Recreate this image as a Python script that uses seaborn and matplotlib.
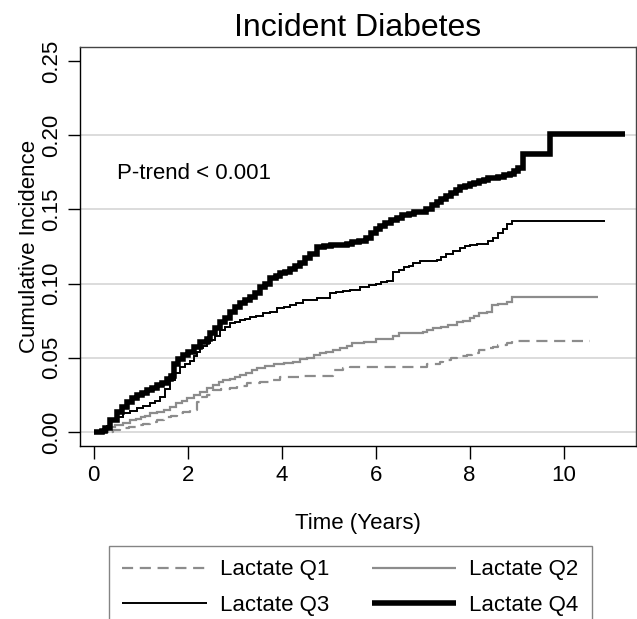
import matplotlib
matplotlib.use("Agg")
import matplotlib.pyplot as plt
import seaborn as sns
import pandas as pd

sns.set_theme(style="white")
plt.rcParams["font.family"] = ["Liberation Sans", "DejaVu Sans"]

title = "Incident Diabetes"
xlabel = "Time (Years)"
ylabel = "Cumulative Incidence"
annot = "P-trend < 0.001"
series_names = ["Lactate Q1", "Lactate Q2", "Lactate Q3", "Lactate Q4"]
x_ticks = [0, 2, 4, 6, 8, 10]
y_ticks = [0.00, 0.05, 0.10, 0.15, 0.20, 0.25]
grid_vals = [0.00, 0.05, 0.10, 0.15, 0.20]

q1_t = [0, 0.42, 0.56, 0.75, 0.92, 1.05, 1.2, 1.35, 1.49, 1.64, 1.77, 1.9, 2.05, 2.2, 2.27, 2.41,
        2.55, 2.7, 2.9, 3.05, 3.26, 3.54, 3.75, 3.97, 4.39, 5.1, 5.3, 5.46, 7.09, 7.37, 7.44, 7.6,
        7.73, 7.94, 8.05, 8.2, 8.37, 8.5, 8.6, 8.8, 8.9, 10.56]
q1_v = [0, 0.0013, 0.0025, 0.0035, 0.0047, 0.0057, 0.0067, 0.008, 0.010, 0.011, 0.0128, 0.0135, 0.0148, 0.020, 0.0236, 0.025,
        0.028, 0.029, 0.030, 0.031, 0.033, 0.034, 0.035, 0.037, 0.038, 0.0417, 0.043, 0.044, 0.0458, 0.047, 0.0485, 0.050,
        0.051, 0.052, 0.053, 0.055, 0.0565, 0.057, 0.0585, 0.060, 0.0612, 0.0612]

q2_t = [0, 0.31, 0.45, 0.63, 0.78, 0.9, 1.0, 1.1, 1.2, 1.35, 1.5, 1.63, 1.75, 1.87, 1.99, 2.13,
        2.27, 2.41, 2.55, 2.66, 2.76, 2.9, 3.0, 3.12, 3.25, 3.37, 3.48, 3.65, 3.83, 4.05, 4.25, 4.4,
        4.55, 4.68, 4.82, 4.95, 5.1, 5.25, 5.4, 5.5, 5.75, 6.0, 6.24, 6.38, 6.5, 6.75, 7.0, 7.1,
        7.22, 7.4, 7.55, 7.73, 7.85, 8.0, 8.1, 8.2, 8.37, 8.47, 8.6, 8.8, 8.9, 10.74]
q2_v = [0, 0.0034, 0.005, 0.006, 0.008, 0.009, 0.0101, 0.011, 0.0128, 0.0135, 0.015, 0.017, 0.0195, 0.021, 0.023, 0.025,
        0.027, 0.030, 0.032, 0.034, 0.035, 0.036, 0.037, 0.0384, 0.040, 0.042, 0.043, 0.0445, 0.046, 0.0465, 0.047, 0.049,
        0.050, 0.052, 0.053, 0.054, 0.055, 0.0565, 0.058, 0.060, 0.061, 0.0626, 0.063, 0.065, 0.0666, 0.067, 0.0673, 0.069,
        0.070, 0.071, 0.072, 0.074, 0.075, 0.077, 0.078, 0.080, 0.081, 0.0855, 0.086, 0.0875, 0.091, 0.091]

q3_t = [0, 0.28, 0.35, 0.5, 0.63, 0.78, 0.92, 1.05, 1.2, 1.3, 1.41, 1.52, 1.63, 1.74, 1.84, 1.95,
        2.05, 2.13, 2.2, 2.27, 2.33, 2.41, 2.48, 2.58, 2.69, 2.8, 2.9, 3.0, 3.12, 3.22, 3.33, 3.45,
        3.6, 3.75, 3.9, 4.05, 4.18, 4.3, 4.46, 4.6, 4.75, 4.88, 5.03, 5.15, 5.3, 5.45, 5.67, 5.85,
        6.0, 6.12, 6.24, 6.38, 6.5, 6.6, 6.7, 6.8, 6.95, 7.1, 7.3, 7.4, 7.5, 7.65, 7.8, 7.9,
        8.0, 8.15, 8.3, 8.4, 8.5, 8.6, 8.7, 8.8, 8.9, 10.88]
q3_v = [0, 0.004, 0.008, 0.010, 0.0128, 0.014, 0.016, 0.0175, 0.0195, 0.021, 0.0236, 0.029, 0.035, 0.040, 0.044, 0.046,
        0.048, 0.051, 0.054, 0.0565, 0.058, 0.060, 0.062, 0.065, 0.0686, 0.071, 0.0733, 0.074, 0.0753, 0.076, 0.0774, 0.078,
        0.080, 0.081, 0.0834, 0.084, 0.0855, 0.087, 0.0888, 0.089, 0.090, 0.0905, 0.094, 0.0945, 0.095, 0.096, 0.0976, 0.099,
        0.100, 0.101, 0.102, 0.108, 0.109, 0.111, 0.112, 0.114, 0.115, 0.1155, 0.116, 0.118, 0.120, 0.122, 0.124, 0.125,
        0.126, 0.1265, 0.127, 0.129, 0.131, 0.134, 0.137, 0.140, 0.142, 0.142]

q4_t = [0, 0.18, 0.24, 0.35, 0.5, 0.6, 0.71, 0.82, 0.92, 1.02, 1.13, 1.24, 1.35, 1.45, 1.56, 1.65,
        1.7, 1.8, 1.9, 2.0, 2.13, 2.27, 2.41, 2.48, 2.58, 2.69, 2.8, 2.9, 3.0, 3.12, 3.22, 3.33,
        3.44, 3.54, 3.65, 3.76, 3.87, 3.97, 4.08, 4.18, 4.28, 4.39, 4.5, 4.61, 4.75, 4.9, 5.05, 5.25,
        5.4, 5.5, 5.65, 5.8, 5.9, 6.0, 6.1, 6.2, 6.32, 6.45, 6.57, 6.7, 6.82, 6.95, 7.07, 7.2,
        7.3, 7.4, 7.5, 7.6, 7.7, 7.8, 7.9, 8.0, 8.1, 8.2, 8.3, 8.4, 8.5, 8.6, 8.73, 8.86,
        8.95, 9.03, 9.14, 9.7, 11.31]
q4_v = [0, 0.001, 0.003, 0.008, 0.0135, 0.017, 0.020, 0.023, 0.025, 0.026, 0.028, 0.030, 0.0316, 0.033, 0.036, 0.038,
        0.046, 0.049, 0.052, 0.054, 0.057, 0.0606, 0.063, 0.067, 0.070, 0.074, 0.077, 0.081, 0.084, 0.0868, 0.089, 0.091,
        0.094, 0.0976, 0.100, 0.1036, 0.105, 0.107, 0.108, 0.110, 0.112, 0.114, 0.117, 0.120, 0.1245, 0.125, 0.126, 0.126,
        0.127, 0.128, 0.129, 0.131, 0.134, 0.137, 0.139, 0.141, 0.143, 0.144, 0.146, 0.147, 0.148, 0.148, 0.150, 0.153,
        0.155, 0.157, 0.159, 0.161, 0.163, 0.165, 0.166, 0.167, 0.168, 0.169, 0.170, 0.171, 0.171, 0.172, 0.173, 0.174,
        0.176, 0.178, 0.187, 0.201, 0.201]

W, H = 637, 619
fig = plt.figure(figsize=(W / 100, H / 100), dpi=100)
ax = fig.add_axes([80 / W, 1 - 446 / H, (636 - 80) / W, (446 - 47) / H])

for g in grid_vals:
    ax.axhline(g, color="#dcdcdc", lw=1.4, zorder=0)

styles = [
    dict(color="#8c8c8c", lw=1.6, linestyle=(0, (5, 3))),
    dict(color="#8c8c8c", lw=1.6, linestyle="-"),
    dict(color="black", lw=1.4, linestyle="-"),
    dict(color="black", lw=4.0, linestyle="-"),
]
data = [(q1_t, q1_v), (q2_t, q2_v), (q3_t, q3_v), (q4_t, q4_v)]
handles = []
for (t, v), name, st in zip(data, series_names, styles):
    df = pd.DataFrame({"t": t, "v": v})
    sns.lineplot(data=df, x="t", y="v", ax=ax, drawstyle="steps-post",
                 estimator=None, sort=False, label=name,
                 solid_joinstyle="miter", solid_capstyle="butt", **st)
    handles.append(ax.lines[-1])

ax.set_xlim(-0.29, 11.54)
ax.set_ylim(-0.0094, 0.2594)
ax.set_xticks(x_ticks)
ax.set_xticklabels([str(x) for x in x_ticks])
ax.set_yticks(y_ticks)
ax.set_yticklabels([f"{y:.2f}" for y in y_ticks], rotation=90, va="center")
ax.tick_params(axis="both", direction="out", length=9, width=1, labelsize=16,
               color="black", labelcolor="black", bottom=True, left=True)
ax.tick_params(axis="x", pad=5)
ax.tick_params(axis="y", pad=4)
for s in ["left", "bottom"]:
    ax.spines[s].set_color("black")
    ax.spines[s].set_linewidth(1.0)
for s in ["top", "right"]:
    ax.spines[s].set_color("#444444")
    ax.spines[s].set_linewidth(1.0)

ax.set_xlabel(xlabel, fontsize=16, labelpad=19, color="black")
ax.set_ylabel(ylabel, fontsize=16, labelpad=1, color="black")
ax.set_title(title, fontsize=23, pad=8, color="black")
ax.text(0.5, 0.174, annot, fontsize=16, va="center", ha="left", color="black")

ax.get_legend().remove()
order = [0, 2, 1, 3]
leg = fig.legend([handles[i] for i in order], [series_names[i] for i in order],
                 ncol=2, loc="upper left",
                 bbox_to_anchor=(109 / W, 1 - 546 / H, (592 - 109) / W, 0.0),
                 mode="expand", borderaxespad=0, fontsize=16, frameon=True,
                 fancybox=False, edgecolor="#666666", handlelength=3.8,
                 handletextpad=0.6, borderpad=0.6, labelspacing=0.65,
                 columnspacing=1.5, labelcolor="black")
leg.get_frame().set_linewidth(1.0)

fig.savefig("out.png", dpi=100)
